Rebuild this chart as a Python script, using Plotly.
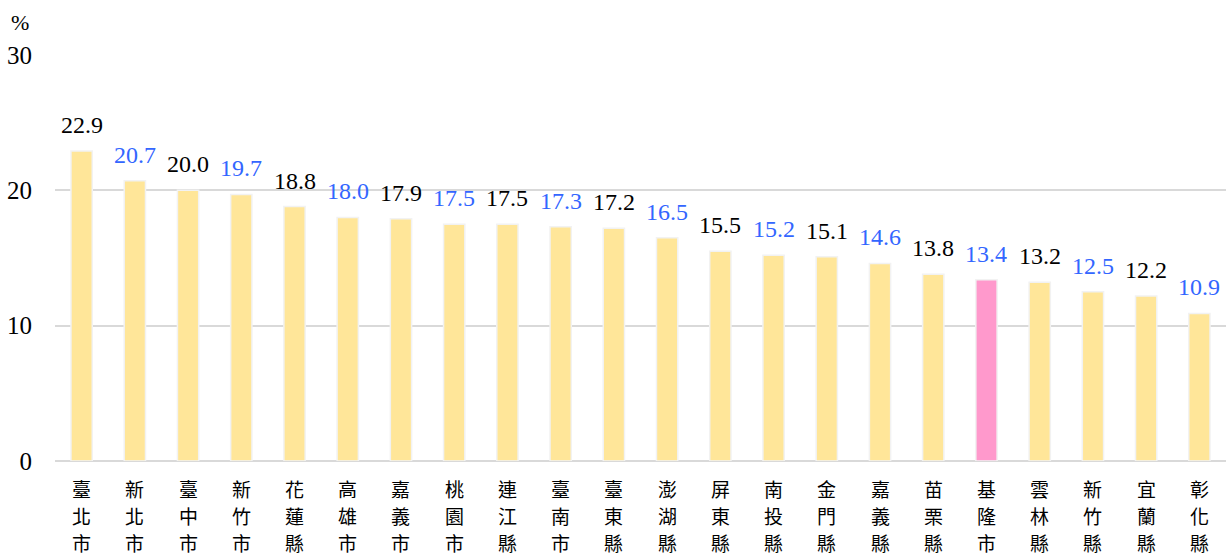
import plotly.graph_objects as go

# County / city names and their percentages
regions = ["臺北市", "新北市", "臺中市", "新竹市", "花蓮縣", "高雄市", "嘉義市", "桃園市",
           "連江縣", "臺南市", "臺東縣", "澎湖縣", "屏東縣", "南投縣", "金門縣", "嘉義縣",
           "苗栗縣", "基隆市", "雲林縣", "新竹縣", "宜蘭縣", "彰化縣"]
values = [22.9, 20.7, 20.0, 19.7, 18.8, 18.0, 17.9, 17.5, 17.5, 17.3, 17.2, 16.5,
          15.5, 15.2, 15.1, 14.6, 13.8, 13.4, 13.2, 12.5, 12.2, 10.9]
highlight = "基隆市"
y_ticks = [0, 10, 20, 30]

BAR = "#FFE699"
HL = "#FF99CC"
BLUE = "#3366FF"
SERIF = "'Liberation Serif', Tinos, 'Times New Roman', 'DejaVu Serif', serif"
CJK = "'Noto Sans CJK TC', 'Noto Sans CJK JP', sans-serif"

fig = go.Figure()
fig.add_trace(go.Bar(
    x=regions,
    y=values,
    marker=dict(
        color=[HL if r == highlight else BAR for r in regions],
        line=dict(color="#F2F2F2", width=1.5),
    ),
    width=0.4,
    hoverinfo="x+y",
))

# value labels, alternating black / blue
for i, (r, v) in enumerate(zip(regions, values)):
    fig.add_annotation(
        x=r, y=v, text=f"{v:.1f}", showarrow=False,
        yanchor="middle", yshift=26,
        font=dict(family=SERIF, size=24, color="black" if i % 2 == 0 else BLUE),
    )

# category names written vertically, one character per line
for r in regions:
    for j, ch in enumerate(r):
        fig.add_annotation(
            x=r, xref="x", y=0, yref="paper", text=ch, showarrow=False,
            yanchor="middle", yshift=-(27 + 27 * j), borderpad=0,
            font=dict(family=CJK, size=19, color="black"),
        )

fig.add_annotation(
    xref="paper", yref="paper", x=-0.03, y=1.0, yshift=33,
    text="%", showarrow=False, xanchor="center", yanchor="middle",
    font=dict(family=SERIF, size=22, color="black"),
)

fig.update_layout(
    width=1226, height=556,
    margin=dict(l=55, r=0, t=55, b=95),
    paper_bgcolor="white", plot_bgcolor="white",
    showlegend=False,
    font=dict(family=SERIF, color="black"),
)
fig.update_xaxes(
    showticklabels=False,
    showline=False, showgrid=False, ticks="",
)
fig.update_yaxes(
    range=[0, 30], tickvals=y_ticks,
    tickfont=dict(family=SERIF, size=25, color="black"),
    showgrid=True, gridcolor="#D9D9D9", gridwidth=1.5,
    zeroline=True, zerolinecolor="#D9D9D9", zerolinewidth=2,
    ticks="", ticklabelstandoff=22,
)

fig.write_html("out.html")
